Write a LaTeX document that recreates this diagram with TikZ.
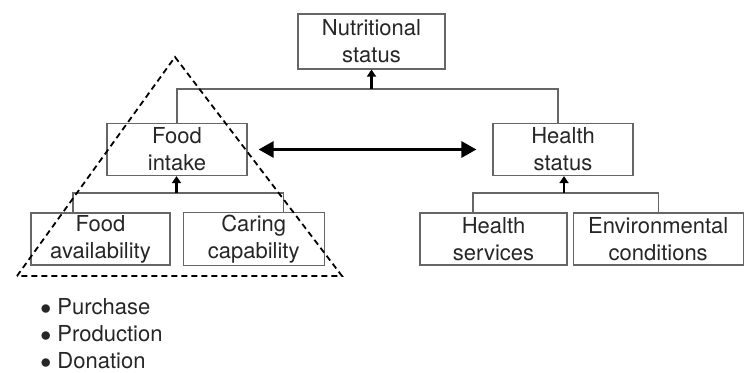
\documentclass[tikz,border=0pt]{standalone}
\usepackage{fontspec}
\setmainfont{TeX Gyre Heros}
\usetikzlibrary{positioning, arrows.meta}

\begin{document}
\begin{tikzpicture}[x=0.5pt, y=-0.5pt,
    txt/.style={text=black!85, font=\fontsize{11}{13.5}\selectfont},
    box/.style={txt, draw=black!60, line width=0.6pt, align=center, inner sep=1pt, minimum height=26pt},
    link/.style={draw=black!60, line width=0.6pt},
    up/.style={-{Triangle[length=3.5pt,width=4.5pt]}, line width=1.2pt},
    both/.style={{Triangle[length=7.5pt,width=8pt]}-{Triangle[length=7.5pt,width=8pt]}, line width=1.5pt}]
    \useasboundingbox (0,0) rectangle (748,373);

    % Top box
    \node[box, minimum width=73.5pt, minimum height=27.5pt] (nut) at (371.5,41.5) {Nutritional\\status};

    % Middle boxes
    \node[box, minimum width=70pt] (food) at (177,149.5) {Food\\intake};
    \node[box, minimum width=70pt] (health) at (563,149.5) {Health\\status};

    % Bottom boxes
    \node[box, minimum width=69.5pt] (avail) at (100.5,239) {Food\\availability};
    \node[box, minimum width=70.5pt] (caring) [right=6pt of avail] {Caring\\capability};
    \node[box, minimum width=73.5pt] (hserv) at (493.5,239) {Health\\services};
    \node[box, minimum width=85pt] (env) [right=2.5pt of hserv] {Environmental\\conditions};

    % Junctions
    \coordinate (top) at (371.5,89);
    \coordinate (fjoin) at (176.5,193);
    \coordinate (hjoin) at (564,193);

    % Connectors
    \draw[link] (food.north) |- (top) -| ([xshift=-2.5pt]health.north);
    \draw[up] (top) -- (nut.south);
    \draw[link] ([xshift=-13.75pt]avail.north) |- (fjoin) -| ([xshift=14.75pt]caring.north);
    \draw[up] (fjoin) -- (fjoin |- food.south);
    \draw[link] ([xshift=-10.25pt]hserv.north) |- (hjoin) -| (env.north);
    \draw[up] (hjoin) -- (hjoin |- health.south);
    \draw[both, shorten <=5.5pt, shorten >=8pt] (food.east) -- (health.west);

    % Dashed triangle
    \coordinate (apex) at (175,57);
    \coordinate (bl) at (17,276);
    \coordinate (br) at (342,276);
    \draw[dash pattern=on 3pt off 2pt, line width=0.9pt] (bl) -- (apex) -- (br) -- cycle;

    % List
    \node[txt, align=left, anchor=north west, inner sep=0pt] (list) at (40,298)
        {$\bullet$ Purchase\\$\bullet$ Production\\$\bullet$ Donation};
\end{tikzpicture}
\end{document}
